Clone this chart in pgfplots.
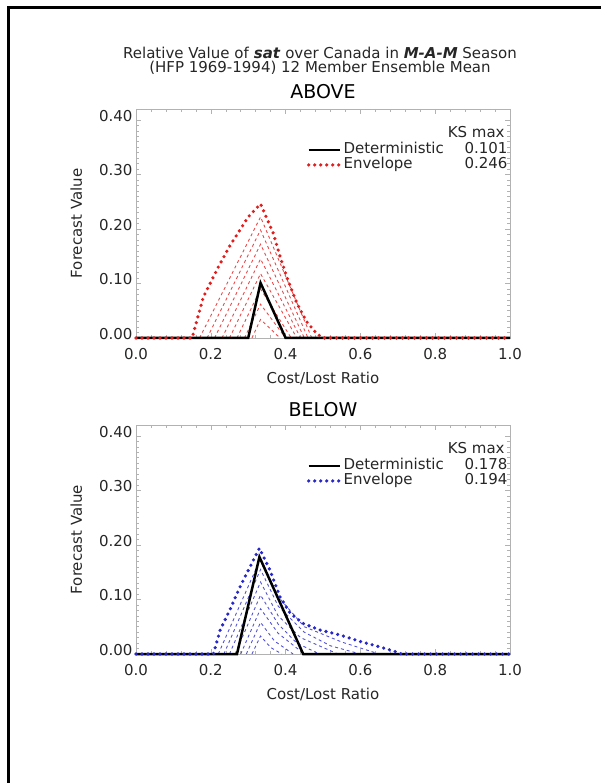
\documentclass[border=0pt]{standalone}
\usepackage{fontspec}
\setmainfont{DejaVu Sans}
\usepackage{pgfplots}
\pgfplotsset{compat=1.18}

\definecolor{envred}{RGB}{225,30,30}
\definecolor{envblue}{RGB}{40,40,200}

\pgfplotsset{
  valstyle/.style={
    scale only axis, width=374pt, height=229pt,
    xmin=0, xmax=1, ymin=0, ymax=0.42,
    clip=false,
    xtick={0,0.2,0.4,0.6,0.8,1.0}, ytick={0,0.1,0.2,0.3,0.4},
    minor x tick num=4, minor y tick num=9,
    scaled ticks=false,
    axis line style={gray!60, line width=0.6pt},
    every tick/.style={gray!60, line width=0.5pt},
    major tick length=5pt, minor tick length=3pt,
    tick align=inside,
    /pgf/number format/assume math mode=true,
    xticklabel style={/pgf/number format/fixed, /pgf/number format/fixed zerofill, /pgf/number format/precision=1, yshift=-7pt},
    yticklabel style={/pgf/number format/fixed, /pgf/number format/fixed zerofill, /pgf/number format/precision=2, yshift=4pt},
    tick label style={font=\fontsize{15}{15}\selectfont, text=black!85},
    label style={font=\fontsize{15}{15}\selectfont, text=black!85},
    xlabel={Cost/Lost Ratio},
    ylabel={Forecast Value},
    xlabel style={at={(axis description cs:0.5,-0.175)}, anchor=center},
    ylabel style={at={(axis description cs:-0.16,0.5)}, anchor=center},
    legend style={draw=none, fill=none, inner sep=0pt, outer sep=0pt,
      at={(axis description cs:0.457,0.854)}, anchor=north west,
      row sep=0pt, column sep=2pt,
      font=\fontsize{15}{15}\selectfont, text=black!85,
      nodes={inner sep=0pt, text height=11pt, text depth=4pt}},
    legend cell align=left,
    legend image code/.code={\draw[##1] (0pt,0pt) -- (31pt,0pt);},
  },
  det/.style={black, line width=2.5pt},
  envr/.style={envred, line width=3.6pt, line cap=round, dash pattern=on 0pt off 6pt},
  memr/.style={envred!80, line width=0.9pt, dash pattern=on 3pt off 3pt},
  envb/.style={envblue, line width=3.6pt, line cap=round, dash pattern=on 0pt off 6pt},
  memb/.style={envblue!80, line width=0.9pt, dash pattern=on 3pt off 3pt},
}

\begin{document}
\begin{tikzpicture}[x=1pt,y=1pt]
\useasboundingbox (0,0) rectangle (601,-783);
\draw[line width=3pt] (8,-783) -- (8,-8) -- (601,-8);

\node[font=\fontsize{15}{15}\selectfont, text=black!85] at (320,-53) {Relative Value of \textbf{\textit{sat}} over Canada in \textbf{\textit{M-A-M}} Season};
\node[font=\fontsize{15}{15}\selectfont, text=black!85] at (320,-68) {(HFP 1969-1994) 12 Member Ensemble Mean};
\node[font=\fontsize{19}{19}\selectfont] at (323,-92) {ABOVE};
\node[font=\fontsize{19}{19}\selectfont] at (323,-410) {BELOW};

% ABOVE
\begin{axis}[valstyle, at={(136pt,-109pt)}, anchor=north west]
\addlegendimage{det}
\addlegendentry{\makebox[164pt][l]{Deterministic\hfill 0.101}}
\addlegendimage{envr}
\addlegendentry{\makebox[164pt][l]{Envelope\hfill 0.246}}
\addplot[memr, forget plot] coordinates {(0.17,0)(0.333,0.222)(0.47,0)};
\addplot[memr, forget plot] coordinates {(0.19,0)(0.333,0.198)(0.46,0)};
\addplot[memr, forget plot] coordinates {(0.21,0)(0.333,0.172)(0.45,0)};
\addplot[memr, forget plot] coordinates {(0.23,0)(0.333,0.145)(0.44,0)};
\addplot[memr, forget plot] coordinates {(0.25,0)(0.333,0.118)(0.43,0)};
\addplot[memr, forget plot] coordinates {(0.27,0)(0.333,0.090)(0.415,0)};
\addplot[memr, forget plot] coordinates {(0.29,0)(0.333,0.062)(0.40,0)};
\addplot[memr, forget plot] coordinates {(0.31,0)(0.333,0.034)(0.385,0)};
\addplot[det, forget plot] coordinates {(0,0)(0.30,0)(0.333,0.101)(0.40,0)(1,0)};
\addplot[envr, forget plot] coordinates {(0,0)(0.15,0)(0.18,0.075)(0.22,0.13)(0.25,0.168)(0.30,0.222)(0.333,0.246)(0.367,0.192)(0.385,0.150)(0.403,0.112)(0.43,0.064)(0.456,0.030)(0.483,0.008)(0.50,0)(1,0)};
\node[anchor=east, font=\fontsize{15}{15}\selectfont, text=black!85] at (axis description cs:0.995,0.90) {KS max};
\end{axis}

% BELOW
\begin{axis}[valstyle, at={(136pt,-425pt)}, anchor=north west]
\addlegendimage{det}
\addlegendentry{\makebox[164pt][l]{Deterministic\hfill 0.178}}
\addlegendimage{envb}
\addlegendentry{\makebox[164pt][l]{Envelope\hfill 0.194}}
\addplot[memb, forget plot] coordinates {(0.22,0)(0.333,0.175)(0.38,0.105)(0.45,0.05)(0.55,0.022)(0.65,0)};
\addplot[memb, forget plot] coordinates {(0.235,0)(0.333,0.155)(0.38,0.088)(0.45,0.04)(0.52,0.015)(0.60,0)};
\addplot[memb, forget plot] coordinates {(0.25,0)(0.333,0.132)(0.38,0.07)(0.44,0.03)(0.54,0)};
\addplot[memb, forget plot] coordinates {(0.265,0)(0.333,0.108)(0.38,0.055)(0.43,0.02)(0.49,0)};
\addplot[memb, forget plot] coordinates {(0.28,0)(0.333,0.083)(0.38,0.038)(0.45,0)};
\addplot[memb, forget plot] coordinates {(0.295,0)(0.333,0.058)(0.37,0.024)(0.42,0)};
\addplot[memb, forget plot] coordinates {(0.31,0)(0.333,0.033)(0.36,0.012)(0.39,0)};
\addplot[det, forget plot] coordinates {(0,0)(0.27,0)(0.33,0.178)(0.447,0)(1,0)};
\addplot[envb, forget plot] coordinates {(0,0)(0.207,0)(0.225,0.044)(0.251,0.081)(0.278,0.123)(0.305,0.160)(0.33,0.194)(0.358,0.154)(0.385,0.105)(0.412,0.075)(0.447,0.056)(0.492,0.044)(0.545,0.035)(0.599,0.023)(0.652,0.013)(0.70,0.003)(0.71,0)(1,0)};
\node[anchor=east, font=\fontsize{15}{15}\selectfont, text=black!85] at (axis description cs:0.995,0.90) {KS max};
\end{axis}
\end{tikzpicture}
\end{document}
